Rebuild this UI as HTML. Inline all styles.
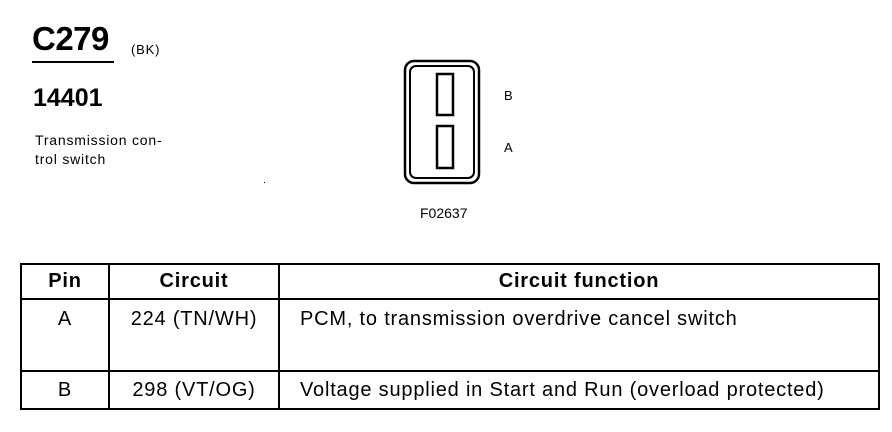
<!DOCTYPE html>
<html><head><style>
body{margin:0;width:892px;height:432px;background:#fff;font-family:"Liberation Sans",Arial,sans-serif;color:#000;position:relative;overflow:hidden}
.a{position:absolute;white-space:nowrap}
table{position:absolute;left:20px;top:263px;border-collapse:collapse;font-size:20px;letter-spacing:0.8px}
td{border:2px solid #000;padding:0;vertical-align:top}
</style></head><body>
<div class="a" style="left:32px;top:20px;font-size:33px;font-weight:bold;letter-spacing:-0.5px">C279</div>
<div class="a" style="left:32px;top:61px;width:82px;height:2px;background:#000"></div>
<div class="a" style="left:131px;top:42px;font-size:13px;letter-spacing:0.8px">(BK)</div>
<div class="a" style="left:33px;top:84px;font-size:25px;font-weight:bold">14401</div>
<div class="a" style="left:35px;top:131px;font-size:14px;line-height:19px;letter-spacing:0.8px">Transmission con-<br>trol switch</div>
<div class="a" style="left:264px;top:182px;width:1px;height:1px;background:#000"></div>
<svg class="a" style="left:0;top:0" width="892" height="240">
<rect x="405" y="61" width="74" height="122" rx="9" fill="none" stroke="#000" stroke-width="2.5"/>
<rect x="410" y="66" width="64" height="112" rx="6" fill="none" stroke="#000" stroke-width="2"/>
<rect x="437" y="74" width="16" height="41" fill="none" stroke="#000" stroke-width="2.5"/>
<rect x="437" y="126" width="16" height="42" fill="none" stroke="#000" stroke-width="2.5"/>
</svg>
<div class="a" style="left:504px;top:88px;font-size:13px">B</div>
<div class="a" style="left:504px;top:140px;font-size:13px">A</div>
<div class="a" style="left:420px;top:205px;font-size:14px">F02637</div>
<table>
<tr style="height:35px"><td style="width:86px;text-align:center;font-weight:bold;vertical-align:middle">Pin</td><td style="width:168px;text-align:center;font-weight:bold;vertical-align:middle">Circuit</td><td style="width:598px;text-align:center;font-weight:bold;vertical-align:middle">Circuit function</td></tr>
<tr style="height:72px"><td style="text-align:center;padding-top:8px">A</td><td style="text-align:center;padding-top:8px">224 (TN/WH)</td><td style="padding-left:20px;padding-top:8px">PCM, to transmission overdrive cancel switch</td></tr>
<tr style="height:38px"><td style="text-align:center;vertical-align:middle">B</td><td style="text-align:center;vertical-align:middle">298 (VT/OG)</td><td style="padding-left:20px;vertical-align:middle">Voltage supplied in Start and Run (overload protected)</td></tr>
</table>
</body></html>
